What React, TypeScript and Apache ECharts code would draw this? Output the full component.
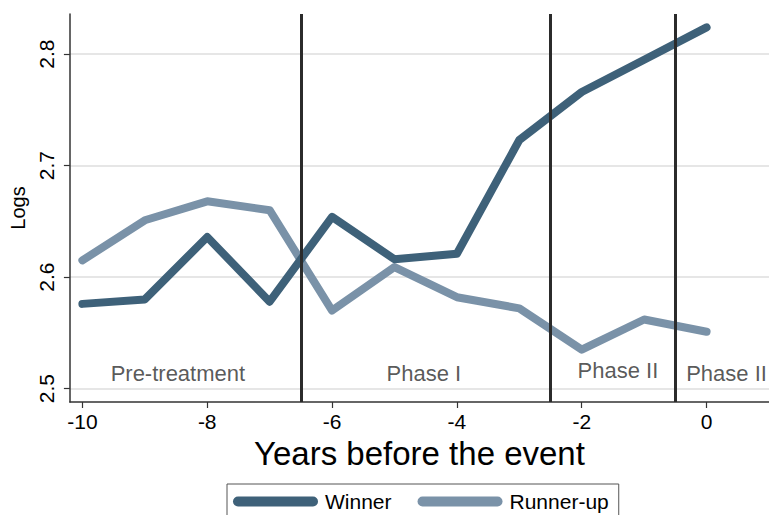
import React, { useEffect, useRef } from "react";
import * as echarts from "echarts";

const years = [-10, -9, -8, -7, -6, -5, -4, -3, -2, -1, 0];
const winner = [2.576, 2.580, 2.636, 2.578, 2.654, 2.616, 2.621, 2.723, 2.766, 2.795, 2.824];
const runnerUp = [2.615, 2.651, 2.668, 2.660, 2.570, 2.609, 2.582, 2.572, 2.535, 2.562, 2.551];
const xTicks = [-10, -8, -6, -4, -2, 0];
const yTicks = [2.5, 2.6, 2.7, 2.8];
const phaseBreaks = [-6.5, -2.5, -0.5];
const phaseLabels = ["Pre-treatment", "Phase I", "Phase II", "Phase II"];
const phaseLabelX = [-8.47, -4.53, -1.42, 0.32];
const phaseLabelY = [2.514, 2.514, 2.516, 2.514];

const FONT = "'Liberation Sans', Arial, sans-serif";
const WINNER_COLOR = "#3e6179";
const RUNNER_COLOR = "#7a92a8";
const CAPSULE = "path://M5,0 L80,0 A5,5 0 0 1 80,10 L5,10 A5,5 0 0 1 5,0 Z";

export default function App() {
  const ref = useRef<HTMLDivElement>(null);
  useEffect(() => {
    if (!ref.current) return;
    const chart = echarts.init(ref.current, undefined, { renderer: "svg" });
    chart.setOption({
      animation: false,
      backgroundColor: "#ffffff",
      textStyle: { fontFamily: FONT },
      grid: { left: 66, right: 0, top: 14, bottom: 113, containLabel: false },
      xAxis: {
        type: "value",
        min: -10.2,
        max: 1.0,
        name: "Years before the event",
        nameLocation: "middle",
        nameGap: 29,
        nameTextStyle: { fontSize: 33, color: "#000", fontFamily: FONT },
        axisLine: { show: true, onZero: false, lineStyle: { color: "#333", width: 1.5 } },
        axisTick: { show: true, customValues: xTicks, length: 6, lineStyle: { color: "#333", width: 1.2 } },
        axisLabel: { customValues: xTicks, fontSize: 21, color: "#000", margin: 9, fontFamily: FONT },
        splitLine: { show: false },
      },
      yAxis: {
        type: "value",
        min: 2.488,
        max: 2.836,
        name: "Logs",
        nameLocation: "middle",
        nameGap: 37,
        nameRotate: 90,
        nameTextStyle: { fontSize: 20, color: "#000", fontFamily: FONT },
        axisLine: { show: true, onZero: false, lineStyle: { color: "#333", width: 1.5 } },
        axisTick: { show: true, customValues: yTicks, length: 6, lineStyle: { color: "#333", width: 1.2 } },
        axisLabel: {
          customValues: yTicks,
          rotate: 90,
          fontSize: 21,
          color: "#000",
          margin: 13,
          fontFamily: FONT,
          formatter: (v: number) => v.toFixed(1),
        },
        splitLine: { show: true, lineStyle: { color: "#e6e6e6", width: 2 } },
      },
      legend: {
        left: 227,
        top: 484,
        orient: "horizontal",
        itemWidth: 85,
        itemHeight: 10,
        itemGap: 26,
        borderColor: "#555",
        borderWidth: 1,
        padding: [7, 10, 30, 6],
        data: [
          { name: "Winner", icon: CAPSULE },
          { name: "Runner-up", icon: CAPSULE },
        ],
        textStyle: { fontSize: 21, color: "#000", fontFamily: FONT, padding: [0, 0, 0, 2] },
      },
      series: [
        {
          name: "Winner",
          type: "line",
          data: years.map((x, i) => [x, winner[i]]),
          showSymbol: false,
          symbol: "none",
          color: WINNER_COLOR,
          itemStyle: { color: WINNER_COLOR },
          lineStyle: { color: WINNER_COLOR, width: 8, cap: "round", join: "round" },
          z: 3,
        },
        {
          name: "Runner-up",
          type: "line",
          data: years.map((x, i) => [x, runnerUp[i]]),
          showSymbol: false,
          symbol: "none",
          color: RUNNER_COLOR,
          itemStyle: { color: RUNNER_COLOR },
          lineStyle: { color: RUNNER_COLOR, width: 8, cap: "round", join: "round" },
          z: 2,
        },
        {
          name: "phases",
          type: "scatter",
          data: phaseLabels.map((t, i) => ({ value: [phaseLabelX[i], phaseLabelY[i]], name: t })),
          symbolSize: 0.01,
          itemStyle: { color: "rgba(0,0,0,0)" },
          label: {
            show: true,
            position: "inside",
            formatter: (p: any) => p.name,
            fontSize: 22,
            color: "#2e2e2e",
            fontFamily: FONT,
          },
          emphasis: { disabled: true },
          silent: true,
          z: 5,
          markLine: {
            silent: true,
            symbol: ["none", "none"],
            label: { show: false },
            lineStyle: { color: "#2b2b2b", width: 3, type: "solid" },
            emphasis: { disabled: true },
            data: phaseBreaks.map((x) => ({ xAxis: x })),
          },
        },
      ],
    });
    return () => chart.dispose();
  }, []);
  return <div ref={ref} style={{ width: 769, height: 515, position: "absolute", left: 0, top: 0 }} />;
}
